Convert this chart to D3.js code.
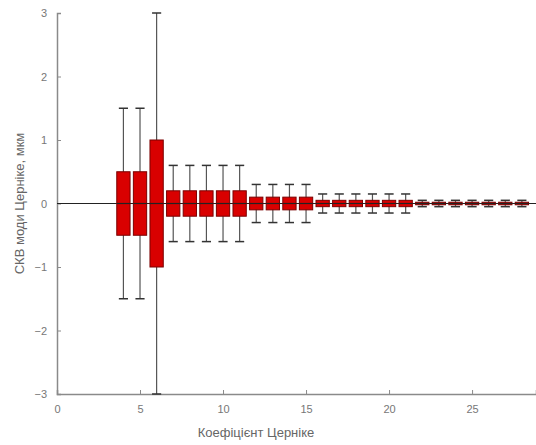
<!DOCTYPE html>
<html>
<head>
<meta charset="utf-8">
<script src="https://cdn.jsdelivr.net/npm/d3@7"></script>
<style>
  body { margin: 0; background: #fff; }
  text { font-family: "Liberation Sans", Arial, sans-serif; }
</style>
</head>
<body>
<div class="board"></div>
<script>
// coefficient numbers and their spreads (box half-height, whisker half-length)
var coefs    = [4, 5, 6, 7, 8, 9, 10, 11, 12, 13, 14, 15, 16, 17, 18, 19, 20, 21, 22, 23, 24, 25, 26, 27, 28];
var boxHalf  = [0.5, 0.5, 1, 0.2, 0.2, 0.2, 0.2, 0.2, 0.1, 0.1, 0.1, 0.1,
                0.05, 0.05, 0.05, 0.05, 0.05, 0.05, 0.02, 0.02, 0.02, 0.02, 0.02, 0.02, 0.02];
var whisker  = [1.5, 1.5, 3, 0.6, 0.6, 0.6, 0.6, 0.6, 0.3, 0.3, 0.3, 0.3,
                0.15, 0.15, 0.15, 0.15, 0.15, 0.15, 0.05, 0.05, 0.05, 0.05, 0.05, 0.05, 0.05];
var xTicks = [0, 5, 10, 15, 20, 25];
var yTicks = [-3, -2, -1, 0, 1, 2, 3];

var svg = d3.select(".board").append("svg")
  .attr("width", 536)
  .attr("height", 445);

var x = d3.scaleLinear().domain([0, 28.85]).range([57, 536]);
var y = d3.scaleLinear().domain([-3, 3]).range([394, 13]);

var axisColor = "#8a8a8a";

// axes, ticks pointing inward
var gx = svg.append("g").attr("transform", "translate(0," + y(-3) + ")")
  .call(d3.axisBottom(x).tickValues(xTicks).tickFormat(d3.format("d")).tickSize(-4).tickPadding(11));
var gy = svg.append("g").attr("transform", "translate(" + x(0) + ",0)")
  .call(d3.axisLeft(y).tickValues(yTicks).tickFormat(d3.format("d")).tickSize(-4).tickPadding(10));

[gx, gy].forEach(function(g) {
  g.select(".domain").attr("stroke", axisColor).attr("stroke-width", 1.5);
  g.selectAll(".tick line").attr("stroke", axisColor);
  g.selectAll(".tick text").attr("fill", "#777").style("font-size", "11px");
});

// zero line
svg.append("line")
  .attr("x1", x(0)).attr("x2", 536)
  .attr("y1", y(0)).attr("y2", y(0))
  .attr("stroke", "#222").attr("stroke-width", 1.2);

var data = coefs.map(function(c, i) {
  return { c: c, b: boxHalf[i], w: whisker[i] };
});

var boxW = x(0.8) - x(0);
var capW = x(0.55) - x(0);

var g = svg.append("g");

// whisker stems
g.selectAll(".stem").data(data).enter().append("line")
  .attr("x1", function(d) { return x(d.c); })
  .attr("x2", function(d) { return x(d.c); })
  .attr("y1", function(d) { return y(d.w); })
  .attr("y2", function(d) { return y(-d.w); })
  .attr("stroke", "#555").attr("stroke-width", 1.2);

// caps
[1, -1].forEach(function(s) {
  g.selectAll(".cap" + s).data(data).enter().append("line")
    .attr("x1", function(d) { return x(d.c) - capW / 2; })
    .attr("x2", function(d) { return x(d.c) + capW / 2; })
    .attr("y1", function(d) { return y(s * d.w); })
    .attr("y2", function(d) { return y(s * d.w); })
    .attr("stroke", "#333").attr("stroke-width", 1.5);
});

// boxes
g.selectAll(".box").data(data).enter().append("rect")
  .attr("x", function(d) { return x(d.c) - boxW / 2; })
  .attr("width", boxW)
  .attr("y", function(d) { return y(d.b); })
  .attr("height", function(d) { return y(-d.b) - y(d.b); })
  .attr("fill", "#d90000")
  .attr("stroke", "#7a0000")
  .attr("stroke-width", 1);

// median lines
g.selectAll(".med").data(data).enter().append("line")
  .attr("x1", function(d) { return x(d.c) - boxW / 2; })
  .attr("x2", function(d) { return x(d.c) + boxW / 2; })
  .attr("y1", y(0)).attr("y2", y(0))
  .attr("stroke", "#222").attr("stroke-width", 1.2);

// labels
svg.append("text")
  .attr("x", 256).attr("y", 437)
  .attr("text-anchor", "middle")
  .attr("fill", "#666")
  .style("font-size", "13px")
  .text("Коефіцієнт Церніке");

svg.append("text")
  .attr("transform", "translate(24," + y(0) + ") rotate(-90)")
  .attr("text-anchor", "middle")
  .attr("fill", "#666")
  .style("font-size", "13px")
  .text("СКВ моди Церніке, мкм");
</script>
</body>
</html>
